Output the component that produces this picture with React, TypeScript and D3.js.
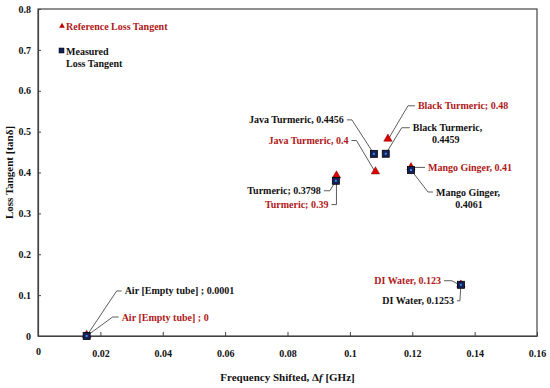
import { useEffect, useRef } from 'react';
import * as d3 from 'd3';

// samples
const names = ['Air', 'Turmeric', 'Java Turmeric', 'Black Turmeric', 'Mango Ginger', 'DI Water'];
const freqShift = [0.0156, 0.0955, 0.1077, 0.1115, 0.1196, 0.1356];
const refShift = [0.0156, 0.0957, 0.1082, 0.1122, 0.1196, 0.1356];
const measured = [0.0001, 0.3798, 0.4456, 0.4459, 0.4061, 0.1253];
const reference = [0, 0.39, 0.4, 0.48, 0.41, 0.123];

const measuredLabels = [
  ['Air [Empty tube] ; 0.0001'],
  ['Turmeric; 0.3798'],
  ['Java Turmeric, 0.4456'],
  ['Black Turmeric,', '0.4459'],
  ['Mango Ginger,', '0.4061'],
  ['DI Water, 0.1253'],
];
const referenceLabels = [
  'Air [Empty tube] ; 0',
  'Turmeric; 0.39',
  'Java Turmeric, 0.4',
  'Black Turmeric; 0.48',
  'Mango Ginger, 0.41',
  'DI Water, 0.123',
];

const xTicks = [0, 0.02, 0.04, 0.06, 0.08, 0.1, 0.12, 0.14, 0.16];
const yTicks = [0, 0.1, 0.2, 0.3, 0.4, 0.5, 0.6, 0.7, 0.8];

// label layout: [elbow dx, elbow dy, end dx, text anchor]
const measuredLayout: [number, number, number, string][] = [
  [30, -45, 5, 'start'],
  [-6, 10, -6, 'end'],
  [-22, -34, -5, 'end'],
  [16, -26, 8, 'start'],
  [17, 22, 5, 'start'],
  [-1, 16, -3, 'end'],
];
const referenceLayout: [number, number, number, string][] = [
  [26, -19, 6, 'start'],
  [0, 28, -5, 'end'],
  [-19, -32, -5, 'end'],
  [20, -34, 7, 'start'],
  [4, -1, 10, 'start'],
  [-9, -5, -8, 'end'],
];

const RED = '#b01818';
const FONT = 'Liberation Serif';
const FS = 10;

const App = () => {
  const svgRef = useRef<SVGSVGElement | null>(null);

  const width = 550;
  const height = 388;
  const marginTop = 9;
  const marginRight = 13;
  const marginBottom = 52;
  const marginLeft = 38;

  useEffect(() => {
    document.body.style.margin = '0';
    document.body.style.overflow = 'hidden';
    const svgElement = svgRef.current;
    if (!svgElement) return;
    const svg = d3.select(svgElement);
    svg.selectAll('*').remove();

    const x = d3.scaleLinear().domain([0, 0.16]).range([marginLeft, width - marginRight]);
    const y = d3.scaleLinear().domain([0, 0.8]).range([height - marginBottom, marginTop]);

    svg.append('rect').attr('width', width).attr('height', height).attr('fill', '#fff');

    // frame
    svg.append('rect')
      .attr('x', marginLeft)
      .attr('y', marginTop)
      .attr('width', width - marginLeft - marginRight)
      .attr('height', height - marginTop - marginBottom)
      .attr('fill', 'none')
      .attr('stroke', '#444')
      .attr('stroke-width', 1.2);

    const xAxis = svg.append('g')
      .attr('transform', `translate(0,${height - marginBottom})`)
      .call(d3.axisBottom(x).tickValues(xTicks).tickSizeInner(-4).tickSizeOuter(0)
        .tickPadding(14).tickFormat(d => d3.format('')(+d as number)));
    xAxis.select('.domain').attr('stroke', '#444').attr('stroke-width', 1.2);
    xAxis.selectAll('text').style('font-family', FONT).style('font-weight', 'bold').style('font-size', `${FS}px`).attr('fill', '#111');
    xAxis.selectAll('line').attr('stroke', '#444');
    xAxis.selectAll('.tick').filter((d: any) => d === 0).select('text').attr('dy', '0.5em');

    const yAxis = svg.append('g')
      .attr('transform', `translate(${marginLeft},0)`)
      .call(d3.axisLeft(y).tickValues(yTicks).tickSizeInner(-3).tickSizeOuter(0)
        .tickPadding(7).tickFormat(d => d3.format('')(+d as number)));
    yAxis.select('.domain').attr('stroke', '#444').attr('stroke-width', 1.2);
    yAxis.selectAll('text').style('font-family', FONT).style('font-weight', 'bold').style('font-size', `${FS}px`).attr('fill', '#111');
    yAxis.selectAll('line').attr('stroke', '#444');

    // axis titles
    const xt = svg.append('text')
      .attr('x', (marginLeft + width - marginRight) / 2)
      .attr('y', height - 7)
      .attr('text-anchor', 'middle')
      .style('font-family', FONT).style('font-weight', 'bold').style('font-size', '11px').attr('fill', '#111');
    xt.append('tspan').text('Frequency Shifted, Δ');
    xt.append('tspan').attr('font-style', 'italic').text('f');
    xt.append('tspan').text(' [GHz]');

    svg.append('text')
      .attr('transform', `translate(13,${(marginTop + height - marginBottom) / 2}) rotate(-90)`)
      .attr('text-anchor', 'middle')
      .style('font-family', FONT).style('font-weight', 'bold').style('font-size', '11px').attr('fill', '#111')
      .text('Loss Tangent [tanδ]');

    const tri = d3.symbol().type(d3.symbolTriangle).size(30);

    // leader lines + labels
    const lbl = svg.append('g').style('font-family', FONT).style('font-weight', 'bold').style('font-size', `${FS}px`);
    names.forEach((_, i) => {
      const px = x(freqShift[i]);
      const py = y(measured[i]);
      const [ex, ey, tx, anchor] = measuredLayout[i];
      lbl.append('path')
        .attr('d', `M${px},${py}L${px + ex},${py + ey}L${px + ex + tx},${py + ey}`)
        .attr('fill', 'none').attr('stroke', '#333').attr('stroke-width', 0.8);
      const t = lbl.append('text')
        .attr('y', py + ey)
        .attr('fill', '#111');
      const tx0 = px + ex + tx + (anchor === 'start' ? 3 : -3);
      measuredLabels[i].forEach((line, k) => {
        t.append('tspan')
          .attr('x', k === 0 ? tx0 : tx0 + 33)
          .attr('dy', k === 0 ? '0.35em' : '1.2em')
          .attr('text-anchor', k === 0 ? anchor : 'middle')
          .text(line);
      });

      const rx = x(refShift[i]);
      const ry = y(reference[i]);
      const [rex, rey, rtx, ranchor] = referenceLayout[i];
      lbl.append('path')
        .attr('d', `M${rx},${ry}L${rx + rex},${ry + rey}L${rx + rex + rtx},${ry + rey}`)
        .attr('fill', 'none').attr('stroke', '#333').attr('stroke-width', 0.8);
      lbl.append('text')
        .attr('x', rx + rex + rtx + (ranchor === 'start' ? 3 : -3))
        .attr('y', ry + rey)
        .attr('dy', '0.35em')
        .attr('text-anchor', ranchor)
        .attr('fill', RED)
        .text(referenceLabels[i]);
    });

    // reference triangles
    svg.append('g').selectAll('path')
      .data(names)
      .join('path')
      .attr('d', tri)
      .attr('transform', (_, i) => `translate(${x(refShift[i])},${y(reference[i]) - 1})`)
      .attr('fill', '#e00000')
      .attr('stroke', '#700')
      .attr('stroke-width', 0.5);

    // measured squares
    const sq = svg.append('g').selectAll('g')
      .data(names)
      .join('g')
      .attr('transform', (_, i) => `translate(${x(freqShift[i])},${y(measured[i])})`);
    sq.append('rect')
      .attr('x', -3.5).attr('y', -3.5).attr('width', 7).attr('height', 7)
      .attr('fill', '#14205a').attr('stroke', '#000').attr('stroke-width', 0.8);
    sq.append('rect')
      .attr('x', -1).attr('y', -1).attr('width', 2).attr('height', 2)
      .attr('fill', '#3a8ad8');

    // legend
    const lg = svg.append('g').style('font-family', FONT).style('font-weight', 'bold').style('font-size', `${FS}px`);
    lg.append('path').attr('d', d3.symbol().type(d3.symbolTriangle).size(14)).attr('transform', 'translate(62,26)').attr('fill', '#c00000');
    lg.append('text').attr('x', 66).attr('y', 26).attr('dy', '0.35em').attr('fill', RED).text('Reference Loss Tangent');
    lg.append('rect').attr('x', 59).attr('y', 48).attr('width', 5).attr('height', 5).attr('fill', '#14205a').attr('stroke', '#000').attr('stroke-width', 0.5);
    lg.append('text').attr('x', 66).attr('y', 51).attr('dy', '0.35em').attr('fill', '#111').text('Measured');
    lg.append('text').attr('x', 66).attr('y', 63).attr('dy', '0.35em').attr('fill', '#111').text('Loss Tangent');
  }, []);

  return <svg ref={svgRef} width={width} height={height} style={{ display: 'block' }} />;
};

export default App;
